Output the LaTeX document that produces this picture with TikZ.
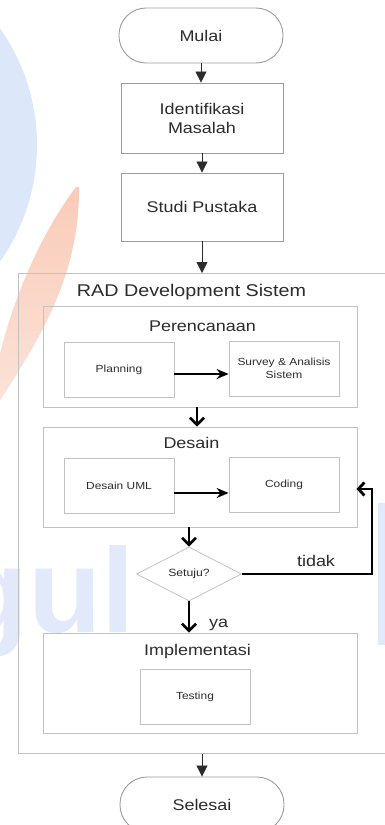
\documentclass[tikz,border=0pt]{standalone}
\usepackage{fontspec}
\setmainfont[FakeStretch=1.16]{Liberation Sans}
\newfontfamily\markfont{Liberation Sans}
\usetikzlibrary{shapes.geometric,arrows.meta,calc}

\definecolor{ink}{HTML}{2C2C2C}
\definecolor{edge}{HTML}{9C9C9C}
\definecolor{frame}{HTML}{C2C2C2}
\definecolor{markblue}{HTML}{DDE7FA}
\definecolor{letterblue}{HTML}{E1E9FB}
\definecolor{markorange}{HTML}{F9CBB8}

\newcommand\fsz[2]{\fontsize{#1}{#2}\selectfont}

\begin{document}
\begin{tikzpicture}[x=1pt,y=-1pt,
  term/.style={draw=edge, line width=0.9pt, rectangle, rounded corners=27pt,
    minimum width=164pt, minimum height=55pt, text=ink, font=\fsz{15.5}{18.6}},
  stepbox/.style={draw=edge, line width=0.9pt, minimum width=162pt,
    align=center, text=ink, font=\fsz{15.5}{19}},
  group/.style={draw=frame, line width=0.9pt, minimum width=314pt, minimum height=100pt},
  task/.style={draw=frame, line width=0.8pt, minimum width=110pt, minimum height=55pt,
    align=center, text=ink, font=\fsz{10.3}{12.4}},
  title/.style={text=ink, inner sep=0pt, font=\fsz{15.5}{18.6}},
  flow/.style={draw=ink, line width=0.8pt, -{Triangle[width=11pt,length=11pt]}},
  heavy/.style={draw=black, line width=2.6pt, -{Straight Barb[length=7pt,width=14pt]}},
  push/.style={draw=black, line width=2pt, -{Stealth[length=12pt,width=10pt]}},
  loopline/.style={draw=black, line width=2.8pt, -{Straight Barb[length=6pt,width=13pt]}}
]
\useasboundingbox (0,0) rectangle (385,825);

% faint background mark
\begin{scope}
  \fill[markblue] (-165,145) circle[radius=202pt];
  \shade[top color=markorange, bottom color=markorange!55!white]
    (76,187) .. controls (45,228) and (14,292) .. (-2,362) -- (-2,404)
    .. controls (35,345) and (80,280) .. (79,187) -- cycle;
  \node[font=\markfont\bfseries\fontsize{120}{120}\selectfont, text=letterblue,
    anchor=base west, inner sep=0pt] (mark) at (-45,632) {gul};
  \fill[letterblue] (378,503) rectangle (392,645);
\end{scope}

% terminals and first steps
\node[term] (mulai) at (201,35.5) {Mulai};
\node[stepbox, minimum height=70pt] (ident) at (202,118) {Identifikasi\\Masalah};
\node[stepbox, minimum height=68pt] (studi) at (202,207) {Studi Pustaka};

% RAD frame
\node[draw=frame, line width=0.9pt, anchor=north west, inner sep=0pt,
  minimum width=380pt, minimum height=480pt] (rad) at (18,273) {};
\node[title, anchor=base, font=\fsz{17}{20}] (radtitle) at (191.5,296) {RAD Development Sistem};

% Perencanaan
\node[group, minimum height=101pt] (perenc) at (200,356.5) {};
\node[title, anchor=base] (perenctitle) at (202.5,331) {Perencanaan};
\node[task] (planning) at (119,369.5) {Planning};
\node[task] (survey) at (284,368.5) {Survey \& Analisis\\Sistem};

% Desain
\node[group] (desain) at (200,477) {};
\node[title, anchor=base] (desaintitle) at (191.5,448) {Desain};
\node[task] (uml) at (119,486) {Desain UML};
\node[task] (coding) at (284,485) {Coding};

% decision
\node[diamond, draw=frame, line width=0.8pt, aspect=2, inner sep=0pt,
  minimum width=105pt, minimum height=54pt, text=ink, font=\fsz{10.5}{12}] (setuju) at (189,574) {Setuju?};

% Implementasi
\node[group] (impl) at (200,683) {};
\node[title, anchor=base] (impltitle) at (197.5,655) {Implementasi};
\node[task] (testing) at (195,697) {Testing};

\node[term] (selesai) at (202,804.5) {Selesai};

% connectors
\draw[flow] (mulai.south) -- (mulai.south |- ident.north);
\draw[flow] (ident.south) -- (ident.south |- studi.north);
\draw[flow] (studi.south) -- (studi.south |- rad.north);
\draw[flow] (rad.south -| selesai.north) -- (selesai.north);

\draw[push] ([yshift=-4.5pt]planning.east) -- ([yshift=-4.5pt]planning.east -| survey.west);
\draw[push] ([yshift=-7pt]uml.east) -- ([yshift=-7pt]uml.east -| coding.west);

\draw[heavy] ([xshift=-3pt]perenc.south) -- ([xshift=-3pt]perenc.south |- desain.north);
\draw[heavy] (desain.south -| setuju.north) -- (setuju.north);
\draw[heavy] (setuju.south) -- (setuju.south |- impl.north);
\node[title, anchor=base west] (ya) at (209,627) {ya};

\coordinate (bend) at (372,489);
\draw[loopline, shorten >=-1pt] (setuju.east) -| (bend) -- ([yshift=-12pt]desain.east);
\node[title, anchor=base] (tidak) at (316,566.7) {tidak};
\end{tikzpicture}
\end{document}
